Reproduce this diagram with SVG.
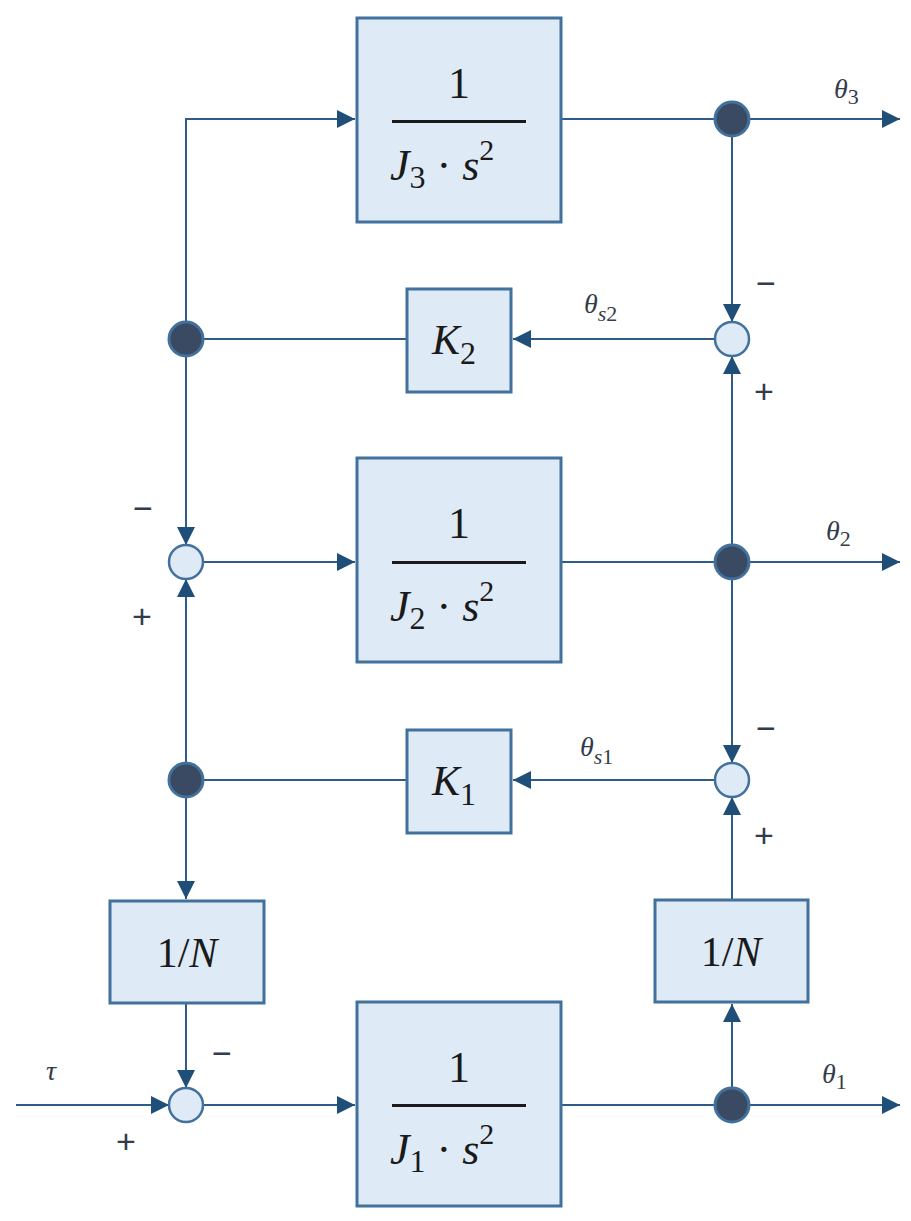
<svg xmlns="http://www.w3.org/2000/svg" width="911" height="1221" viewBox="0 0 911 1221">
<defs>
<marker id="a" viewBox="0 0 10 10" refX="10" refY="5" markerWidth="18" markerHeight="18" markerUnits="userSpaceOnUse" orient="auto"><path d="M0,0L10,5L0,10z" fill="#1f4e79"/></marker>
<style>
.b{fill:#deeaf6;stroke:#41719c;stroke-width:3}
.c line,.c path{stroke:#2e5c88;stroke-width:2;fill:none}
.ar{marker-end:url(#a)}
.d{fill:#3a4a62;stroke:#41719c;stroke-width:3}
.s{fill:#deeaf6;stroke:#41719c;stroke-width:2.5}
.m{font-family:"Liberation Serif","DejaVu Serif",serif;fill:#1a1a1a}
.i{font-style:italic}
.l{font-family:"Liberation Serif","DejaVu Serif",serif;font-style:italic;fill:#333c4a;font-size:28px}
.g{font-family:"Liberation Sans",sans-serif;fill:#333c4a;font-size:34px}
</style>
</defs>
<g class="c">
<path class="ar" d="M186,339V119H355"/>
<line class="ar" x1="186" y1="339" x2="186" y2="545"/>
<line class="ar" x1="186" y1="780" x2="186" y2="579"/>
<line class="ar" x1="186" y1="780" x2="186" y2="899"/>
<line class="ar" x1="186" y1="1003" x2="186" y2="1088"/>
<line class="ar" x1="203" y1="562" x2="355" y2="562"/>
<line class="ar" x1="203" y1="1105" x2="355" y2="1105"/>
<line class="ar" x1="16" y1="1105" x2="169" y2="1105"/>
<line class="ar" x1="561" y1="119" x2="900" y2="119"/>
<line class="ar" x1="561" y1="562" x2="900" y2="562"/>
<line class="ar" x1="561" y1="1105" x2="900" y2="1105"/>
<line class="ar" x1="732" y1="119" x2="732" y2="322"/>
<line class="ar" x1="732" y1="562" x2="732" y2="356"/>
<line class="ar" x1="732" y1="562" x2="732" y2="763"/>
<line class="ar" x1="732" y1="900" x2="732" y2="797"/>
<line class="ar" x1="732" y1="1105" x2="732" y2="1004"/>
<line class="ar" x1="715" y1="339" x2="513" y2="339"/>
<line class="ar" x1="715" y1="780" x2="513" y2="780"/>
<line x1="407" y1="339" x2="186" y2="339"/>
<line x1="407" y1="780" x2="186" y2="780"/>
</g>
<g id="J3"><rect class="b" x="357" y="18" width="204" height="204"/><text class="m" x="459" y="98" font-size="44" text-anchor="middle">1</text><rect x="392" y="120" width="134" height="3" fill="#1a1a1a"/><text class="m" x="390" y="180" font-size="44"><tspan class="i">J</tspan><tspan font-size="32" dy="8">3</tspan><tspan dy="-8"> · </tspan><tspan class="i">s</tspan><tspan font-size="30" dy="-20">2</tspan></text></g>
<g id="J2"><rect class="b" x="357" y="458" width="204" height="204"/><text class="m" x="459" y="538" font-size="44" text-anchor="middle">1</text><rect x="392" y="561" width="134" height="3" fill="#1a1a1a"/><text class="m" x="390" y="621" font-size="44"><tspan class="i">J</tspan><tspan font-size="32" dy="8">2</tspan><tspan dy="-8"> · </tspan><tspan class="i">s</tspan><tspan font-size="30" dy="-20">2</tspan></text></g>
<g id="J1"><rect class="b" x="357" y="1002" width="204" height="204"/><text class="m" x="459" y="1082" font-size="44" text-anchor="middle">1</text><rect x="392" y="1104" width="134" height="3" fill="#1a1a1a"/><text class="m" x="390" y="1164" font-size="44"><tspan class="i">J</tspan><tspan font-size="32" dy="8">1</tspan><tspan dy="-8"> · </tspan><tspan class="i">s</tspan><tspan font-size="30" dy="-20">2</tspan></text></g>
<g id="K2"><rect class="b" x="407" y="289" width="104" height="103"/><text class="m" x="432" y="354" font-size="42"><tspan class="i">K</tspan><tspan font-size="32" dy="10">2</tspan></text></g>
<g id="K1"><rect class="b" x="407" y="730" width="104" height="103"/><text class="m" x="432" y="795" font-size="42"><tspan class="i">K</tspan><tspan font-size="32" dy="10">1</tspan></text></g>
<g id="N1"><rect class="b" x="110" y="901" width="154" height="102"/><text class="m" x="187" y="967" font-size="42" text-anchor="middle">1/<tspan class="i">N</tspan></text></g>
<g id="N2"><rect class="b" x="655" y="900" width="153" height="102"/><text class="m" x="731" y="966" font-size="42" text-anchor="middle">1/<tspan class="i">N</tspan></text></g>
<g id="dots"><circle class="d" cx="732" cy="119" r="17"/><circle class="d" cx="186" cy="339" r="17"/><circle class="d" cx="732" cy="562" r="17"/><circle class="d" cx="186" cy="780" r="17"/><circle class="d" cx="732" cy="1105" r="17"/></g>
<g id="sums"><circle class="s" cx="732" cy="339" r="17"/><circle class="s" cx="186" cy="562" r="17"/><circle class="s" cx="732" cy="780" r="17"/><circle class="s" cx="186" cy="1105" r="17"/></g>
<g id="labels">
<text class="l" x="834" y="98">θ<tspan font-size="22" dy="6" font-style="normal">3</tspan></text>
<text class="l" x="826" y="540">θ<tspan font-size="22" dy="6" font-style="normal">2</tspan></text>
<text class="l" x="822" y="1083">θ<tspan font-size="22" dy="6" font-style="normal">1</tspan></text>
<text class="l" x="584" y="313">θ<tspan font-size="22" dy="8">s</tspan><tspan font-size="22" font-style="normal">2</tspan></text>
<text class="l" x="580" y="756">θ<tspan font-size="22" dy="8">s</tspan><tspan font-size="22" font-style="normal">1</tspan></text>
<text class="l" x="46" y="1080">τ</text>
<text class="g" x="756" y="295">−</text><text class="g" x="754" y="403">+</text>
<text class="g" x="133" y="520">−</text><text class="g" x="132" y="628">+</text>
<text class="g" x="756" y="740">−</text><text class="g" x="754" y="847">+</text>
<text class="g" x="212" y="1065">−</text><text class="g" x="116" y="1153">+</text>
</g>
</svg>
